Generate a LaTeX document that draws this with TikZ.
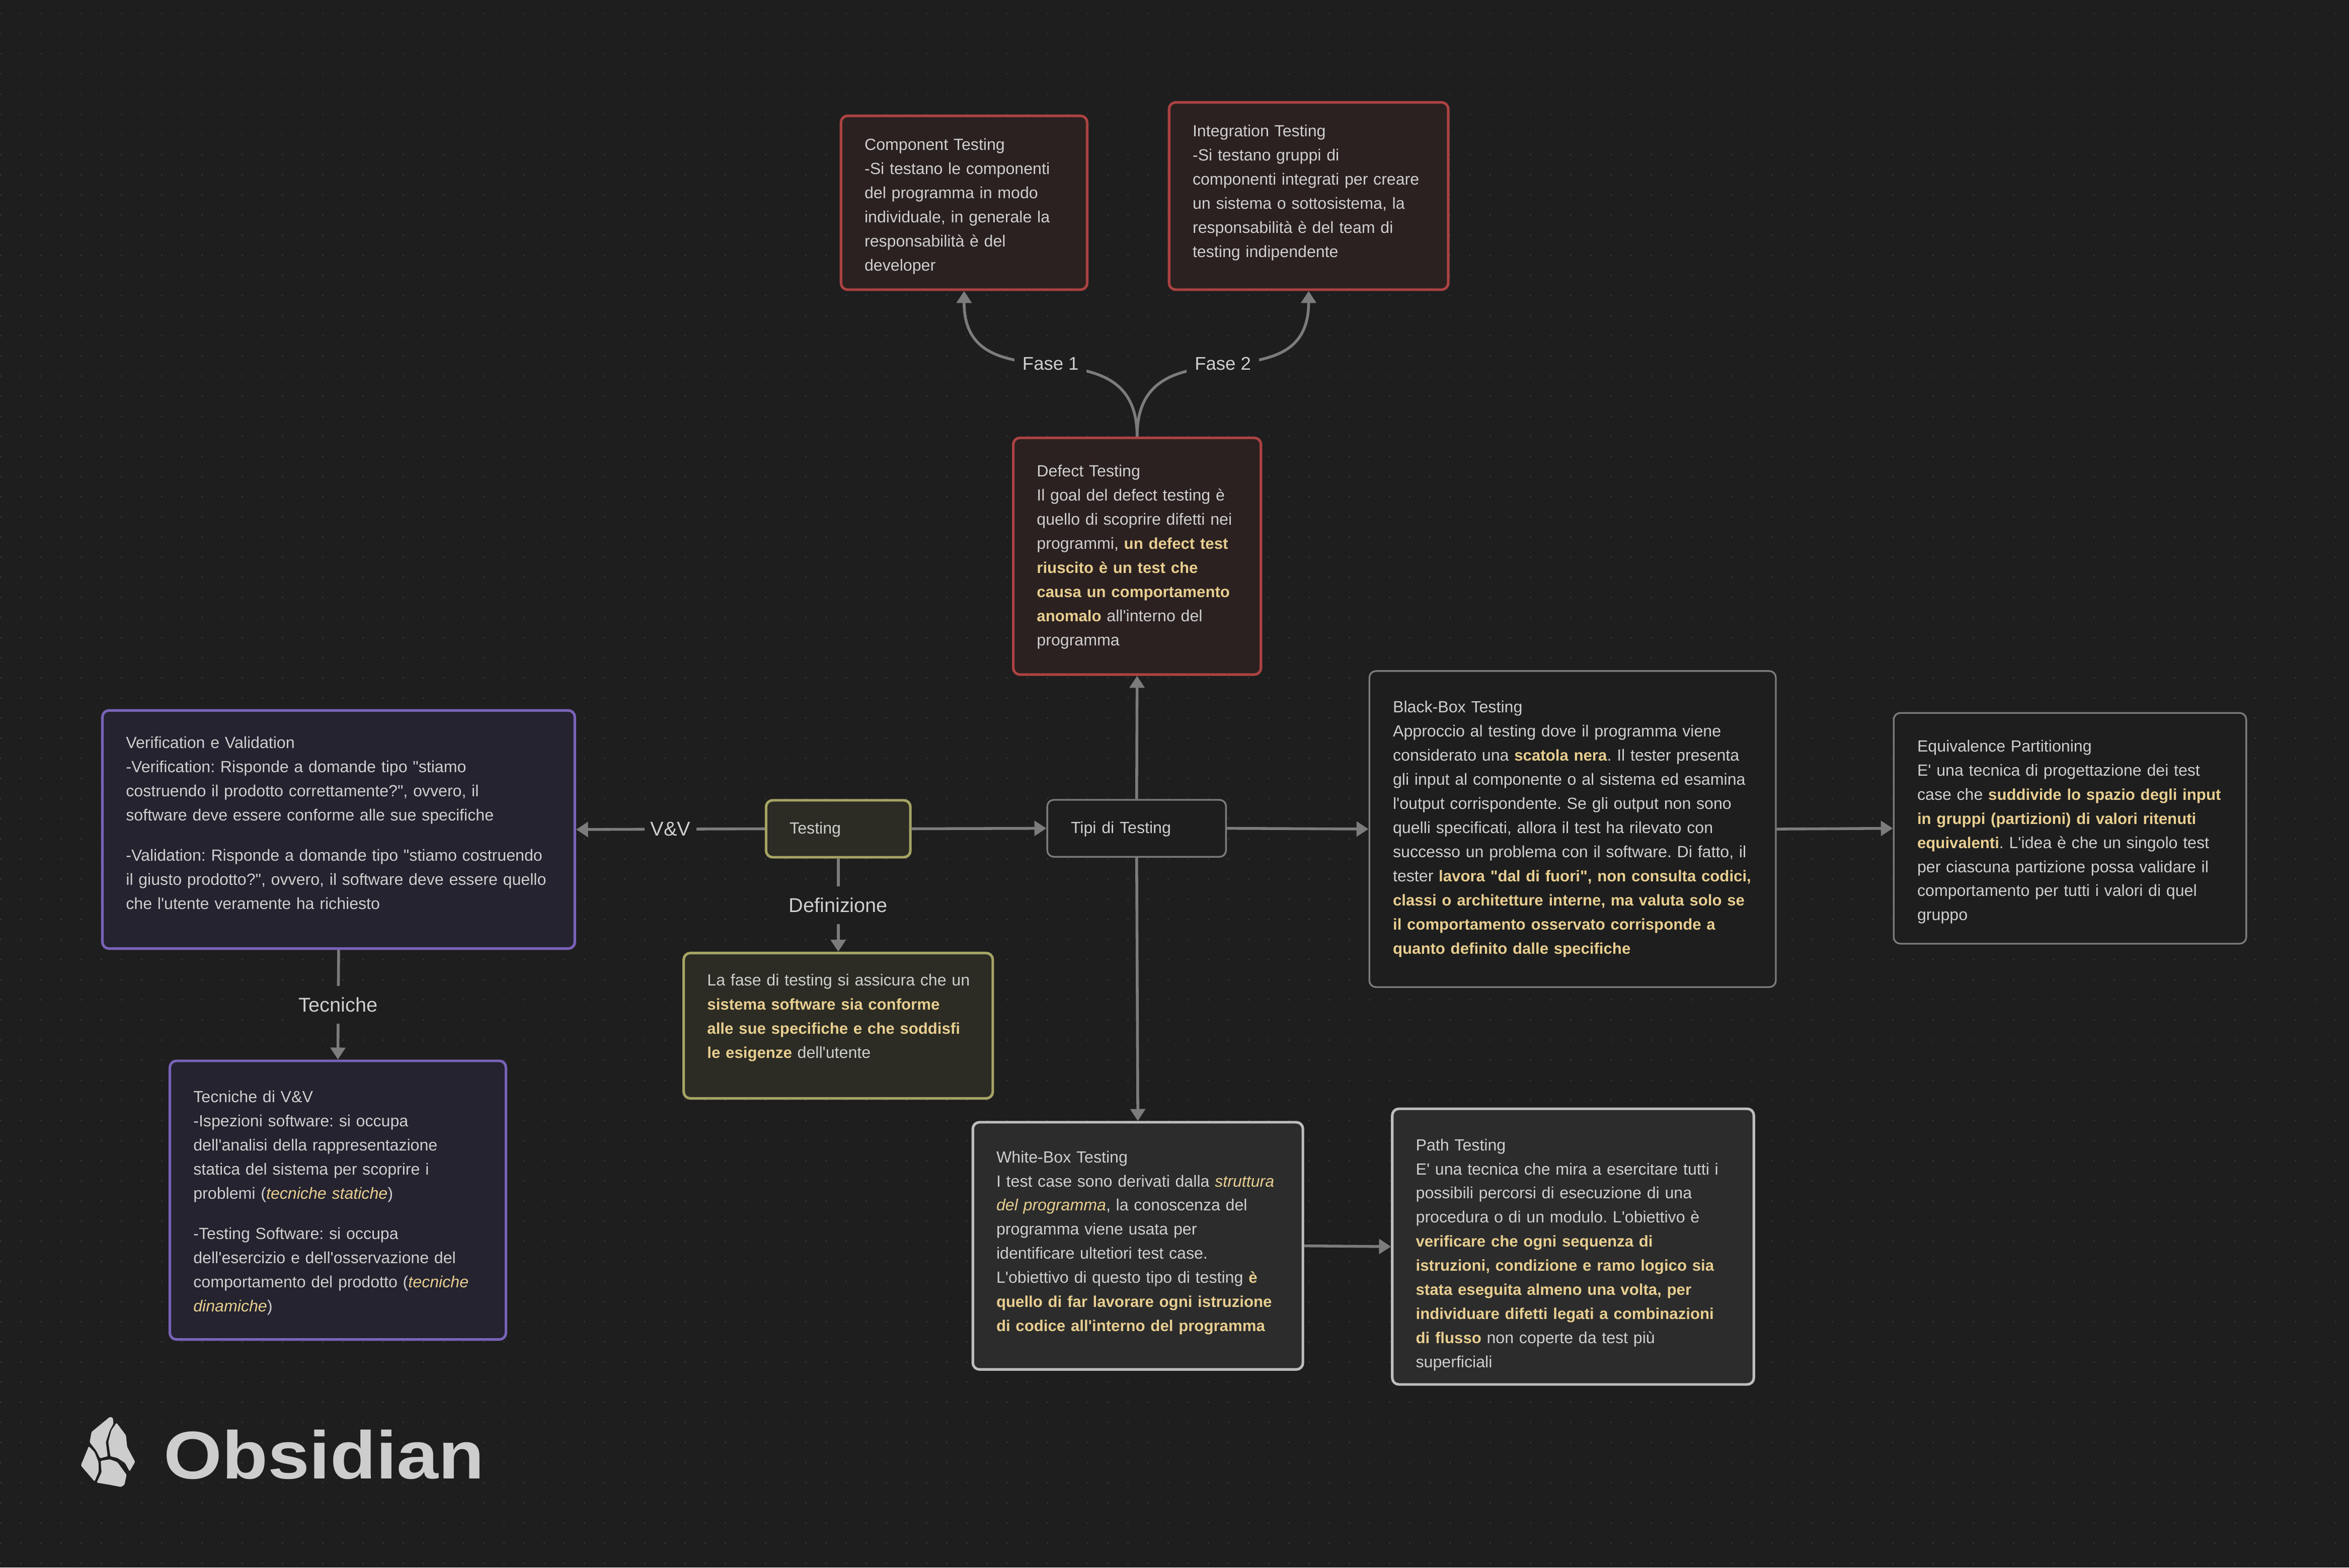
\documentclass[tikz,border=0pt]{standalone}
\usepackage{fontspec}
\usetikzlibrary{arrows.meta}
\newfontfamily\cardfont{Liberation Sans}[BoldFeatures={Scale=0.97}]
\newfontfamily\logofont{Liberation Sans}
\definecolor{canvasbg}{HTML}{1E1E1E}
\definecolor{griddot}{HTML}{313131}
\definecolor{inktext}{HTML}{CFCFCF}
\definecolor{inkhl}{HTML}{E8CE90}
\definecolor{edgecol}{HTML}{7C7C7C}
\definecolor{logocol}{HTML}{CDCDCD}
\newcommand{\hlb}[1]{\textcolor{inkhl}{\textbf{#1}}}
\newcommand{\hli}[1]{\textcolor{inkhl}{\textit{#1}}}
\tikzset{
  card/.style n args={3}{rectangle, anchor=north west, rounded corners=3.3pt, align=left,
    text=inktext, font=\cardfont\frenchspacing\fontsize{8.1}{12.08}\selectfont, inner xsep=11.8pt, inner ysep=0.4pt,
    line width=1.3pt, text width=#1, text height=#2, text depth=#3},
  redcard/.style={draw={rgb,255:red,172;green,66;blue,66}, fill={rgb,255:red,43;green,33;blue,32}},
  purplecard/.style={draw={rgb,255:red,122;green,98;blue,184}, fill={rgb,255:red,36;green,35;blue,47}},
  olivecard/.style={draw={rgb,255:red,166;green,164;blue,100}, fill={rgb,255:red,44;green,44;blue,36}},
  greycard/.style={draw=edgecol, fill=canvasbg, line width=0.85pt},
  palecard/.style={draw={rgb,255:red,190;green,190;blue,190}, fill={rgb,255:red,44;green,44;blue,44}},
  conn/.style={draw=edgecol, line width=1.4pt, -{Triangle[length=6pt,width=7.4pt]}},
  edgelbl/.style={fill=canvasbg, text=inktext, font=\cardfont\fontsize{10}{12}\selectfont, inner xsep=3pt, inner ysep=0pt, minimum height=18.8pt},
  phaselbl/.style={edgelbl, font=\cardfont\fontsize{9.2}{12}\selectfont, inner xsep=4pt}
}
\begin{document}
\begin{tikzpicture}[x=0.75pt,y=0.75pt,yscale=-1,xscale=1]
\useasboundingbox (0,0) rectangle (1568,1046.7);
\fill[canvasbg] (0,0) rectangle (1568,1046.7);

%Shape: dotted canvas
\foreach \j in {0,...,77}
  \draw[griddot, line width=0.75pt, dash pattern=on 0.75pt off 9.328pt] (0,\j*13.437+9.07) -- (1568,\j*13.437+9.07);

% Text Node
\node[card={99.65pt}{16.75pt}{69.5pt}, redcard] (component) at (560.5,76.5) {Component Testing\\-Si testano le componenti\\del programma in modo\\individuale, in generale la\\responsabilità è del\\developer};
% Text Node
\node[card={116.15pt}{16.75pt}{76.25pt}, redcard] (integration) at (779.5,67.5) {Integration Testing\\-Si testano gruppi di\\componenti integrati per creare\\un sistema o sottosistema, la\\responsabilità è del team di\\testing indipendente};
% Text Node
\node[card={100.4pt}{19pt}{98.75pt}, redcard] (defect) at (675.5,291.5) {Defect Testing\\Il goal del defect testing è\\quello di scoprire difetti nei\\programmi, \hlb{un defect test}\\\hlb{riuscito è un test che}\\\hlb{causa un comportamento}\\\hlb{anomalo} all'interno del\\programma};
% Text Node
\node[card={212.9pt}{18.65pt}{99.85pt}, purplecard] (vv) at (67.5,473.5) {Verification e Validation\\-Verification: Risponde a domande tipo "stiamo\\costruendo il prodotto correttamente?", ovvero, il\\software deve essere conforme alle sue specifiche\\[8pt]-Validation: Risponde a domande tipo "stiamo costruendo\\il giusto prodotto?", ovvero, il software deve essere quello\\che l'utente veramente ha richiesto};
% Text Node
\node[card={144.65pt}{20.5pt}{118.25pt}, purplecard] (tecniche) at (112.5,707.5) {Tecniche di V\&V\\-Ispezioni software: si occupa\\dell'analisi della rappresentazione\\statica del sistema per scoprire i\\problemi (\hli{tecniche statiche})\\[8pt]-Testing Software: si occupa\\dell'esercizio e dell'osservazione del\\comportamento del prodotto (\hli{tecniche}\\\hli{dinamiche})};
% Text Node
\node[card={48.65pt}{16.4pt}{11.35pt}, olivecard] (testing) at (510.5,533.5) {Testing};
% Text Node
\node[card={131.15pt}{16pt}{56pt}, olivecard] (definition) at (455.5,635.5) {\mbox{La fase di testing si assicura che un}\\\hlb{sistema software sia conforme}\\\hlb{alle sue specifiche e che soddisfi}\\\hlb{le esigenze} dell'utente};
% Text Node
\node[card={65.9pt}{16.4pt}{11.35pt}, greycard] (tipi) at (698.5,533.5) {Tipi di Testing};
% Text Node
\node[card={179.9pt}{20.5pt}{137pt}, greycard] (blackbox) at (913.5,447.5) {Black-Box Testing\\Approccio al testing dove il programma viene\\considerato una \hlb{scatola nera}. Il tester presenta\\gli input al componente o al sistema ed esamina\\l'output corrispondente. Se gli output non sono\\quelli specificati, allora il test ha rilevato con\\successo un problema con il software. Di fatto, il\\tester \hlb{lavora "dal di fuori", non consulta codici,}\\\hlb{classi o architetture interne, ma valuta solo se}\\\hlb{il comportamento osservato corrisponde a}\\\hlb{quanto definito dalle specifiche}};
% Text Node
\node[card={152.9pt}{19pt}{95.75pt}, greycard] (equivalence) at (1263.5,475.5) {Equivalence Partitioning\\E' una tecnica di progettazione dei test\\case che \hlb{suddivide lo spazio degli input}\\\hlb{in gruppi (partizioni) di valori ritenuti}\\\hlb{equivalenti}. L'idea è che un singolo test\\per ciascuna partizione possa validare il\\comportamento per tutti i valori di quel\\gruppo};
% Text Node
\node[card={141.65pt}{19.8pt}{103.2pt}, palecard] (whitebox) at (648.5,748.5) {White-Box Testing\\I test case sono derivati dalla \hli{struttura}\\\hli{del programma}, la conoscenza del\\programma viene usata per\\identificare ultetiori test case.\\L'obiettivo di questo tipo di testing \hlb{è}\\\hlb{quello di far lavorare ogni istruzione}\\\hlb{di codice all'interno del programma}};
% Text Node
\node[card={157.4pt}{20.5pt}{116.75pt}, palecard] (pathtest) at (928.5,739.5) {Path Testing\\E' una tecnica che mira a esercitare tutti i\\possibili percorsi di esecuzione di una\\procedura o di un modulo. L'obiettivo è\\\hlb{verificare che ogni sequenza di}\\\hlb{istruzioni, condizione e ramo logico sia}\\\hlb{stata eseguita almeno una volta, per}\\\hlb{individuare difetti legati a combinazioni}\\\hlb{di flusso} non coperte da test più\\superficiali};

%Straight Lines
\draw[conn] (testing.east) -- (tipi.west);
\draw[conn] (testing.west) -- node[edgelbl] (lblvv) {V\&V} (vv.east);
\draw[conn] (testing.south) -- node[edgelbl] (lbldef) {Definizione} (definition.north);
\draw[conn] (vv.south) -- node[edgelbl] (lbltec) {Tecniche} (tecniche.north);
\draw[conn] (tipi.north) -- (defect.south);
\draw[conn] (tipi.south) -- (whitebox.north);
\draw[conn] (tipi.east) -- (blackbox.west);
\draw[conn] (blackbox.east) -- (equivalence.west);
\draw[conn] (whitebox.east) -- (pathtest.west);
%Curve Lines
\draw[conn] (defect.north) .. controls +(0,-80) and +(0,80) .. node[phaselbl] (lblfase1) {Fase 1} (component.south);
\draw[conn] (defect.north) .. controls +(0,-80) and +(0,80) .. node[phaselbl] (lblfase2) {Fase 2} (integration.south);

%Shape: logo
\begin{scope}[shift={(33.6,923.7)},x=0.1527pt,y=0.084pt]
\fill[logocol, rounded corners=0.6pt] (195,200) -- (135,290) -- (129,352) -- (150,400) -- (163,447) -- (188,435) -- (182,350) -- (195,280) -- (207,240) -- (205,205) -- cycle;
\fill[logocol, rounded corners=0.6pt] (217,235) -- (248,310) -- (252,380) -- (278,468) -- (260,525) -- (245,475) -- (220,445) -- (197,435) -- (190,350) -- (200,280) -- cycle;
\fill[logocol, rounded corners=0.6pt] (126,375) -- (100,490) -- (145,585) -- (158,530) -- (158,470) -- (145,410) -- cycle;
\fill[logocol, rounded corners=0.6pt] (165,462) -- (195,453) -- (220,470) -- (250,545) -- (243,605) -- (232,618) -- (195,605) -- (152,592) -- (168,530) -- cycle;
\end{scope}
% Text Node
\node[anchor=base west, inner sep=0pt, text=logocol, font=\logofont\bfseries\fontsize{33.8}{36}\selectfont] (logotext) at (109,987.3) {\scalebox{1.11}[1]{Obsidian}};
\end{tikzpicture}
\end{document}
